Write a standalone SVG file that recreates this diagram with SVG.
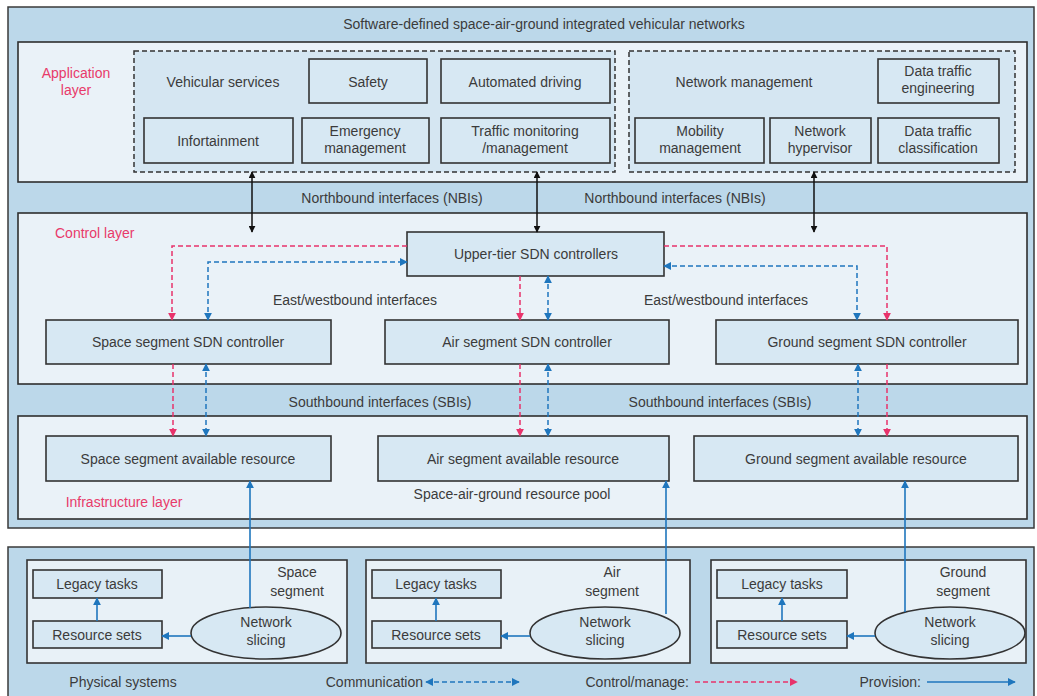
<svg xmlns="http://www.w3.org/2000/svg" width="1037" height="696" viewBox="0 0 1037 696">
  <style>
    .outer { fill: #bcd8ea; stroke: #3a3a3a; stroke-width: 1.5; }
    .layer { fill: #eaf2f8; stroke: #2e2e2e; stroke-width: 1.6; }
    .group { fill: #d5e6f2; stroke: #333; stroke-width: 1.5; stroke-dasharray: 5 3; }
    .node { fill: #d7e8f3; stroke: #333; stroke-width: 1.6; }
    .seg { fill: #e8f1f7; stroke: #333; stroke-width: 1.6; }
    text { font-family: "Liberation Sans", Arial, sans-serif; font-size: 14px; fill: #3b3b3b; text-anchor: middle; }
    .red { fill: #e83a6a; }
    .left { text-anchor: start; }
    .right { text-anchor: end; }
    .blk { stroke: #111; stroke-width: 1.5; fill: none; }
    .ctl { stroke: #e8336b; stroke-width: 1.5; fill: none; stroke-dasharray: 5 3; }
    .com { stroke: #1f76bd; stroke-width: 1.5; fill: none; stroke-dasharray: 5 3; }
    .pro { stroke: #1f76bd; stroke-width: 1.6; fill: none; }
  </style>
  <defs>
    <marker id="ahBlack" viewBox="0 0 10 10" refX="9" refY="5" markerWidth="7" markerHeight="7" markerUnits="userSpaceOnUse" orient="auto-start-reverse">
      <path d="M0,0 L10,5 L0,10 z" fill="#111"/>
    </marker>
    <marker id="ahRed" viewBox="0 0 10 10" refX="9" refY="5" markerWidth="8" markerHeight="8" markerUnits="userSpaceOnUse" orient="auto-start-reverse">
      <path d="M0,0 L10,5 L0,10 z" fill="#e8336b"/>
    </marker>
    <marker id="ahBlue" viewBox="0 0 10 10" refX="9" refY="5" markerWidth="8" markerHeight="8" markerUnits="userSpaceOnUse" orient="auto-start-reverse">
      <path d="M0,0 L10,5 L0,10 z" fill="#1f76bd"/>
    </marker>
  </defs>

  <rect width="1037" height="696" fill="#ffffff"/>

  <!-- top frame with the three layers -->
  <rect class="outer" x="8" y="7" width="1026" height="521"/>
  <text x="544" y="29">Software-defined space-air-ground integrated vehicular networks</text>

  <!-- application layer -->
  <g id="application-layer">
    <rect class="layer" x="18" y="42" width="1009" height="140"/>
    <text class="red" x="76" y="78">Application</text>
    <text class="red" x="76" y="95">layer</text>
  </g>
  <g id="vehicular-services">
    <rect class="group" x="134" y="51" width="481" height="121"/>
    <text x="223" y="87">Vehicular services</text>
  </g>
  <g id="safety"><rect class="node" x="309" y="59" width="118" height="44"/><text x="368" y="87">Safety</text></g>
  <g id="automated-driving"><rect class="node" x="441" y="59" width="169" height="44"/><text x="525" y="87">Automated driving</text></g>
  <g id="infotainment"><rect class="node" x="144" y="118" width="149" height="45"/><text x="218" y="146">Infortainment</text></g>
  <g id="emergency-management"><rect class="node" x="302" y="118" width="127" height="45"/><text x="365" y="136">Emergency</text><text x="365" y="153">management</text></g>
  <g id="traffic-monitoring"><rect class="node" x="441" y="118" width="169" height="45"/><text x="525" y="136">Traffic monitoring</text><text x="525" y="153">/management</text></g>

  <g id="network-management">
    <rect class="group" x="629" y="51" width="386" height="121"/>
    <text x="744" y="87">Network management</text>
  </g>
  <g id="data-traffic-engineering"><rect class="node" x="878" y="59" width="121" height="44"/><text x="938" y="76">Data traffic</text><text x="938" y="93">engineering</text></g>
  <g id="mobility-management"><rect class="node" x="635" y="118" width="129" height="45"/><text x="700" y="136">Mobility</text><text x="700" y="153">management</text></g>
  <g id="network-hypervisor"><rect class="node" x="770" y="118" width="101" height="45"/><text x="820" y="136">Network</text><text x="820" y="153">hypervisor</text></g>
  <g id="data-traffic-classification"><rect class="node" x="878" y="118" width="121" height="45"/><text x="938" y="136">Data traffic</text><text x="938" y="153">classification</text></g>

  <text x="392" y="203">Northbound interfaces (NBIs)</text>
  <text x="675" y="203">Northbound interfaces (NBIs)</text>

  <!-- control layer -->
  <g id="control-layer">
    <rect class="layer" x="18" y="213" width="1009" height="171"/>
    <text class="red left" x="55" y="238">Control layer</text>
  </g>
  <g id="upper-tier-controllers"><rect class="node" x="407" y="232" width="257" height="44"/><text x="536" y="259">Upper-tier SDN controllers</text></g>
  <g id="space-sdn-controller"><rect class="node" x="46" y="320" width="285" height="44"/><text x="188" y="347">Space segment SDN controller</text></g>
  <g id="air-sdn-controller"><rect class="node" x="385" y="320" width="284" height="44"/><text x="527" y="347">Air segment SDN controller</text></g>
  <g id="ground-sdn-controller"><rect class="node" x="716" y="320" width="302" height="44"/><text x="867" y="347">Ground segment SDN controller</text></g>
  <text x="355" y="305">East/westbound interfaces</text>
  <text x="726" y="305">East/westbound interfaces</text>

  <text x="380" y="407">Southbound interfaces (SBIs)</text>
  <text x="720" y="407">Southbound interfaces (SBIs)</text>

  <!-- infrastructure layer -->
  <g id="infrastructure-layer">
    <rect class="layer" x="18" y="416" width="1009" height="103"/>
    <text class="red" x="124" y="507">Infrastructure layer</text>
    <text x="512" y="499">Space-air-ground resource pool</text>
  </g>
  <g id="space-resource"><rect class="node" x="46" y="436" width="285" height="45"/><text x="188" y="464">Space segment available resource</text></g>
  <g id="air-resource"><rect class="node" x="378" y="436" width="291" height="45"/><text x="523" y="464">Air segment available resource</text></g>
  <g id="ground-resource"><rect class="node" x="694" y="436" width="324" height="45"/><text x="856" y="464">Ground segment available resource</text></g>

  <!-- physical systems -->
  <g id="physical-systems">
    <rect class="outer" x="8" y="547" width="1026" height="152"/>
    <text x="123" y="687">Physical systems</text>
  </g>
  <g id="space-segment">
    <rect class="seg" x="27" y="560" width="320" height="103"/>
    <text x="297" y="577">Space</text><text x="297" y="596">segment</text>
    <rect class="node" x="33" y="570" width="129" height="28"/><text x="97" y="589">Legacy tasks</text>
    <rect class="node" x="33" y="621" width="129" height="27"/><text x="97" y="640">Resource sets</text>
    <ellipse class="node" cx="266" cy="633" rx="75" ry="26"/><text x="266" y="627">Network</text><text x="266" y="645">slicing</text>
  </g>
  <g id="air-segment">
    <rect class="seg" x="366" y="560" width="324" height="103"/>
    <text x="612" y="577">Air</text><text x="612" y="596">segment</text>
    <rect class="node" x="372" y="570" width="129" height="28"/><text x="436" y="589">Legacy tasks</text>
    <rect class="node" x="372" y="621" width="129" height="27"/><text x="436" y="640">Resource sets</text>
    <ellipse class="node" cx="605" cy="633" rx="75" ry="26"/><text x="605" y="627">Network</text><text x="605" y="645">slicing</text>
  </g>
  <g id="ground-segment">
    <rect class="seg" x="711" y="560" width="315" height="103"/>
    <text x="963" y="577">Ground</text><text x="963" y="596">segment</text>
    <rect class="node" x="717" y="570" width="130" height="28"/><text x="782" y="589">Legacy tasks</text>
    <rect class="node" x="717" y="621" width="130" height="27"/><text x="782" y="640">Resource sets</text>
    <ellipse class="node" cx="950" cy="633" rx="75" ry="26"/><text x="950" y="627">Network</text><text x="950" y="645">slicing</text>
  </g>

  <!-- legend -->
  <g id="legend">
    <text class="right" x="423" y="687">Communication</text>
    <line class="com" x1="426" y1="682" x2="519" y2="682" marker-start="url(#ahBlue)" marker-end="url(#ahBlue)"/>
    <text class="right" x="689" y="687">Control/manage:</text>
    <line class="ctl" x1="695" y1="682" x2="797" y2="682" marker-end="url(#ahRed)"/>
    <text class="right" x="921" y="687">Provision:</text>
    <line class="pro" x1="927" y1="682" x2="1015" y2="682" marker-end="url(#ahBlue)"/>
  </g>

  <!-- connectors -->
  <g id="connectors">
    <!-- northbound -->
    <line class="blk" x1="252" y1="172" x2="252" y2="232" marker-start="url(#ahBlack)" marker-end="url(#ahBlack)"/>
    <line class="blk" x1="537" y1="172" x2="537" y2="232" marker-start="url(#ahBlack)" marker-end="url(#ahBlack)"/>
    <line class="blk" x1="814" y1="172" x2="814" y2="232" marker-start="url(#ahBlack)" marker-end="url(#ahBlack)"/>

    <!-- east/westbound -->
    <path class="ctl" d="M407,246 H172 V320" marker-end="url(#ahRed)"/>
    <path class="com" d="M208,320 V262 H407" marker-start="url(#ahBlue)" marker-end="url(#ahBlue)"/>
    <path class="ctl" d="M664,246 H887 V320" marker-end="url(#ahRed)"/>
    <path class="com" d="M664,266 H857 V320" marker-start="url(#ahBlue)" marker-end="url(#ahBlue)"/>
    <line class="ctl" x1="520" y1="276" x2="520" y2="320" marker-end="url(#ahRed)"/>
    <line class="com" x1="548" y1="276" x2="548" y2="320" marker-start="url(#ahBlue)" marker-end="url(#ahBlue)"/>

    <!-- southbound -->
    <line class="ctl" x1="173" y1="364" x2="173" y2="436" marker-end="url(#ahRed)"/>
    <line class="com" x1="206" y1="364" x2="206" y2="436" marker-start="url(#ahBlue)" marker-end="url(#ahBlue)"/>
    <line class="ctl" x1="520" y1="364" x2="520" y2="436" marker-end="url(#ahRed)"/>
    <line class="com" x1="548" y1="364" x2="548" y2="436" marker-start="url(#ahBlue)" marker-end="url(#ahBlue)"/>
    <line class="com" x1="858" y1="364" x2="858" y2="436" marker-start="url(#ahBlue)" marker-end="url(#ahBlue)"/>
    <line class="ctl" x1="887" y1="364" x2="887" y2="436" marker-end="url(#ahRed)"/>

    <!-- provision from slicing up to the resource pool -->
    <line class="pro" x1="250" y1="608" x2="250" y2="481" marker-end="url(#ahBlue)"/>
    <line class="pro" x1="666" y1="614" x2="666" y2="481" marker-end="url(#ahBlue)"/>
    <line class="pro" x1="905" y1="612" x2="905" y2="481" marker-end="url(#ahBlue)"/>

    <!-- inside each segment -->
    <line class="pro" x1="191" y1="636" x2="162" y2="636" marker-end="url(#ahBlue)"/>
    <line class="pro" x1="530" y1="636" x2="501" y2="636" marker-end="url(#ahBlue)"/>
    <line class="pro" x1="875" y1="636" x2="847" y2="636" marker-end="url(#ahBlue)"/>
    <line class="pro" x1="97" y1="621" x2="97" y2="598" marker-end="url(#ahBlue)"/>
    <line class="pro" x1="436" y1="621" x2="436" y2="598" marker-end="url(#ahBlue)"/>
    <line class="pro" x1="782" y1="621" x2="782" y2="598" marker-end="url(#ahBlue)"/>
  </g>
</svg>
